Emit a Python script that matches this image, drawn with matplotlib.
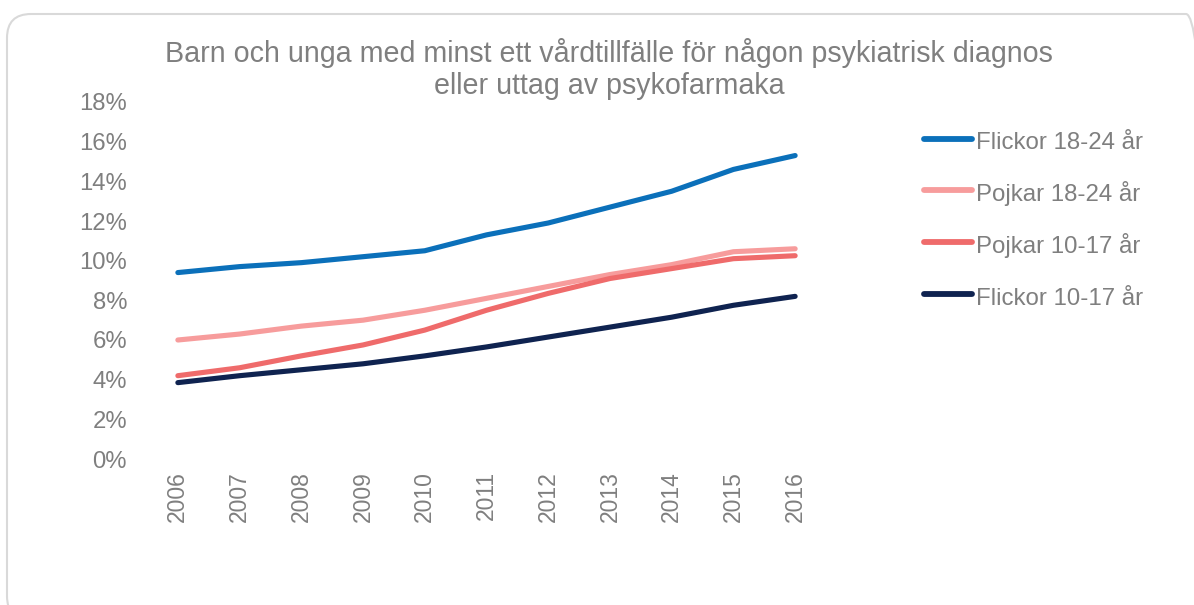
import matplotlib
matplotlib.use("Agg")
import matplotlib.pyplot as plt
from matplotlib.patches import FancyBboxPatch

# data (share of population, %)
years = [2006, 2007, 2008, 2009, 2010, 2011, 2012, 2013, 2014, 2015, 2016]
flickor_18_24 = [9.4, 9.7, 9.9, 10.2, 10.5, 11.3, 11.9, 12.7, 13.5, 14.6, 15.3]
pojkar_18_24 = [6.0, 6.3, 6.7, 7.0, 7.5, 8.1, 8.7, 9.3, 9.8, 10.45, 10.6]
pojkar_10_17 = [4.2, 4.6, 5.2, 5.75, 6.5, 7.5, 8.35, 9.1, 9.6, 10.1, 10.25]
flickor_10_17 = [3.85, 4.2, 4.5, 4.8, 5.2, 5.65, 6.15, 6.65, 7.15, 7.75, 8.2]

labels = ["Flickor 18-24 år", "Pojkar 18-24 år", "Pojkar 10-17 år", "Flickor 10-17 år"]
colors = ["#0B70BA", "#F79C9C", "#EF6B6B", "#0F2350"]
title = ("Barn och unga med minst ett vårdtillfälle för någon psykiatrisk diagnos\n"
         "eller uttag av psykofarmaka")
yticks = [0, 2, 4, 6, 8, 10, 12, 14, 16, 18]

grey = "#7F7F7F"
plt.rcParams['font.family'] = ['Liberation Sans', 'DejaVu Sans']

fig = plt.figure(figsize=(11.94, 6.05), dpi=100)
ax = fig.add_axes([147 / 1194, 146 / 605, 679 / 1194, 357 / 605])

series = [flickor_18_24, pojkar_18_24, pojkar_10_17, flickor_10_17]
for vals, lab, col in zip(series, labels, colors):
    ax.plot(years, vals, color=col, lw=3.7, label=lab, solid_capstyle="round")

ax.set_xlim(years[0] - 0.5, years[-1] + 0.5)
ax.set_ylim(0, 18)
ax.set_yticks(yticks)
ax.set_yticklabels([f"{v}%" for v in yticks])
ax.set_xticks(years)
ax.set_xticklabels([str(y) for y in years], rotation=90)
ax.tick_params(axis="y", length=0, labelsize=17.2, colors=grey, pad=14.4)
ax.tick_params(axis="x", length=0, labelsize=16.5, colors=grey, pad=8.5)
for s in ax.spines.values():
    s.set_visible(False)

fig.text(609 / 1194, 1 - 69 / 605, title, ha="center", va="center",
         fontsize=20.6, color=grey, linespacing=1.15)

# handleheight > text height keeps the rows evenly spaced
leg = fig.legend(loc="upper left", bbox_to_anchor=(914 / 1194, 1 - 118 / 605),
                 frameon=False, fontsize=17.3, labelcolor=grey,
                 handlelength=2.0, handleheight=1.4, handletextpad=0.2,
                 labelspacing=1.0, borderaxespad=0)
for h in leg.get_lines():
    h.set_linewidth(4.2)
    h.set_solid_capstyle("round")

# rounded chart-area border
border = FancyBboxPatch((7, -15), 1203, 606, boxstyle="round,pad=0,rounding_size=24",
                        transform=None, fill=False, edgecolor="#D9D9D9", lw=1.5)
fig.add_artist(border)

fig.savefig("out.png", dpi=100)
